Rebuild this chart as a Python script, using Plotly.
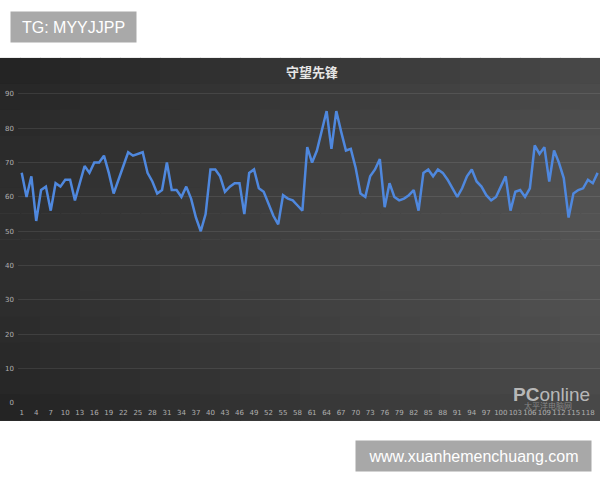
import plotly.graph_objects as go

# ---- data ----
categories = list(range(1, 121))
values = [67, 60, 66, 53, 62, 63, 56, 64, 63, 65,
          65, 59, 64, 69, 67, 70, 70, 72, 67, 61,
          65, 69, 73, 72, 72.5, 73, 67, 64.5, 61, 62,
          70, 62, 62, 60, 63, 59.5, 54, 50, 55, 68,
          68, 66, 61.5, 63, 64, 64, 55, 67, 68, 62.5,
          61.5, 58, 54.5, 52, 60.5, 59.5, 59, 57.5, 56, 74.5,
          70, 73.5, 79, 85, 74, 85, 79, 73.5, 74, 68.5,
          61, 60, 66, 68, 71, 57, 64, 60, 59, 59.5,
          60.5, 62, 56, 67, 68, 66, 68, 67, 65, 62.5,
          60, 62.5, 66, 68, 64.5, 63, 60.5, 59, 60, 63,
          66, 56, 61.5, 62, 60, 62.5, 75, 72.5, 74.5, 64.5,
          73.5, 70, 65.5, 54, 61, 62, 62.5, 65, 64, 67]
x_tick_vals = list(range(1, 121, 3))
x_tick_text = [str(v) for v in x_tick_vals]
y_tick_vals = [0, 10, 20, 30, 40, 50, 60, 70, 80, 90]
title_text = "守望先锋"

W, H = 600, 480
ML, MR, MT, MB = 18, 0, 86.5, 77
PW, PH = W - ML - MR, H - MT - MB


def px_to_paper_x(px):
    return (px - ML) / PW


def px_to_paper_y(py):
    return (H - MB - py) / PH


fig = go.Figure()
fig.add_trace(go.Scatter(
    x=categories, y=values, mode="lines",
    line=dict(color="#4f88de", width=2.5),
    hoverinfo="x+y", showlegend=False,
))

# dark gradient background built from tiles
shapes = []
cols, rows = 30, 14
top, bot = 58, 421
for ci in range(cols):
    x0 = ci * W / cols
    x1 = (ci + 1) * W / cols
    xc = (x0 + x1) / 2
    for ri in range(rows):
        y0 = top + ri * (bot - top) / rows
        y1 = top + (ri + 1) * (bot - top) / rows
        yc = (y0 + y1) / 2
        v = 46 + 38 * (xc / W) - 12 * ((yc - 240) / 180) ** 2
        v = int(max(0, min(255, v)))
        shapes.append(dict(
            type="rect", xref="paper", yref="paper", layer="below",
            x0=px_to_paper_x(x0), x1=px_to_paper_x(x1) + 0.002,
            y0=px_to_paper_y(y1), y1=px_to_paper_y(y0) + 0.002,
            line=dict(width=0), fillcolor=f"rgb({v},{v},{v})",
        ))

annotations = [
    dict(text="TG: MYYJJPP", xref="paper", yref="paper",
         x=px_to_paper_x(10), y=px_to_paper_y(10), xanchor="left", yanchor="top",
         showarrow=False, bgcolor="#a9a9a9", width=125, height=30, borderpad=0,
         font=dict(family="Liberation Sans, Arial, sans-serif", size=16, color="white")),
    dict(text="www.xuanhemenchuang.com", xref="paper", yref="paper",
         x=px_to_paper_x(355), y=px_to_paper_y(440), xanchor="left", yanchor="top",
         showarrow=False, bgcolor="#a8a8a8", width=235, height=30, borderpad=0,
         font=dict(family="Liberation Sans, Arial, sans-serif", size=16, color="white")),
    dict(text="<b>PC</b>online", xref="paper", yref="paper",
         x=px_to_paper_x(592), y=px_to_paper_y(394), xanchor="right", yanchor="middle",
         showarrow=False,
         font=dict(family="Liberation Sans, Arial, sans-serif", size=19,
                   color="rgba(215,215,215,0.8)")),
    dict(text="太平洋电脑网", xref="paper", yref="paper",
         x=px_to_paper_x(548), y=px_to_paper_y(406), xanchor="center", yanchor="middle",
         showarrow=False,
         font=dict(family="Noto Sans CJK SC", size=8, color="rgba(200,200,200,0.5)")),
]

fig.update_layout(
    width=W, height=H,
    margin=dict(l=ML, r=MR, t=MT, b=MB, pad=0),
    paper_bgcolor="white", plot_bgcolor="rgba(0,0,0,0)",
    shapes=shapes, annotations=annotations,
    title=dict(text="<b>" + title_text + "</b>", x=px_to_paper_x(312), xref="paper",
               xanchor="center", y=1 - 72 / H, yanchor="middle",
               font=dict(family="Noto Sans CJK SC", size=13, color="#e6e6e6")),
    xaxis=dict(range=[0.236, 120.49], tickmode="array", tickvals=x_tick_vals,
               ticktext=x_tick_text, showgrid=False, zeroline=False, showline=False,
               ticks="", tickangle=0, ticklabelstandoff=4,
               tickfont=dict(family="DejaVu Sans", size=7, color="#b0b0b0")),
    yaxis=dict(range=[0, 92], tickmode="array", tickvals=y_tick_vals,
               showgrid=True, gridcolor="rgba(255,255,255,0.09)", gridwidth=1,
               zeroline=False, showline=False, ticks="", ticklabelstandoff=3,
               tickfont=dict(family="DejaVu Sans", size=7, color="#b0b0b0")),
)

fig.write_html("out.html", config={"displayModeBar": False},
               post_script="document.body.style.margin='0px';document.body.style.overflow='hidden';")
